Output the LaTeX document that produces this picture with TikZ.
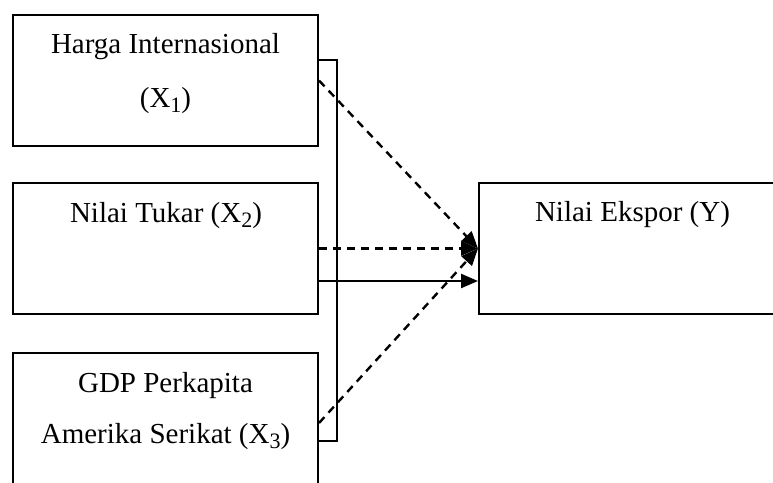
\documentclass[tikz,border=0pt]{standalone}
\usepackage{fontspec}
\setmainfont{Liberation Serif}
\usetikzlibrary{arrows.meta}
\newcommand{\sbs}[1]{\raisebox{-0.2em}{\fontsize{22}{22}\selectfont #1}}
\begin{document}
\begin{tikzpicture}[x=1pt,y=-1pt,
  box/.style={draw,line width=2pt,rectangle,inner sep=0pt},
  lbl/.style={anchor=base,inner sep=0pt,font=\fontsize{29}{34}\selectfont},
  tip/.style={-{Triangle[length=17pt,width=14pt]}},
  dsh/.style={tip,line width=2.4pt,dash pattern=on 8pt off 6pt},
  sol/.style={tip,line width=2.4pt},
  brk/.style={line width=1.3pt}]
\useasboundingbox (0,0) rectangle (773,482);
\begin{scope}
\clip (0,0) rectangle (773,482);
\node[box,minimum width=305pt,minimum height=131pt] (b1) at (165.5,80.5) {};
\node[box,minimum width=305pt,minimum height=131pt] (b2) at (165.5,248.5) {};
\node[box,minimum width=305pt,minimum height=140pt] (b3) at (165.5,423) {};
\node[box,minimum width=320pt,minimum height=131pt] (b4) at (639,248.5) {};
\node[lbl] (t1a) at (165.5,53) {Harga Internasional};
\node[lbl] (t1b) at (165.5,107) {(X\sbs{1})};
\node[lbl] (t2) at (166,222) {Nilai Tukar (X\sbs{2})};
\node[lbl] (t3a) at (165.5,392) {GDP Perkapita};
\node[lbl] (t3b) at (165.5,443) {Amerika Serikat (X\sbs{3})};
\node[lbl] (t4) at (632.5,221) {Nilai Ekspor (Y)};
\coordinate (k1) at (318,60);
\coordinate (k2) at (337,60);
\coordinate (k3) at (337,441);
\coordinate (k4) at (318,441);
\draw[brk] (k1) -- (k2) -- (k3) -- (k4);
\draw[dsh] (b1.east) -- (b4.west);
\draw[dsh] (b2.east) -- (b4.west);
\draw[dsh] (b3.east) -- (b4.west);
\draw[sol] ([yshift=-32.5pt]b2.east) -- ([yshift=-32.5pt]b4.west);
\end{scope}
\end{tikzpicture}
\end{document}
